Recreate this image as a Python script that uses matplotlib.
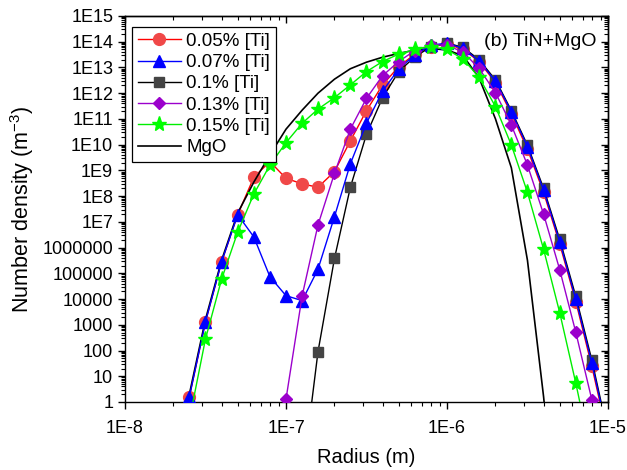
import numpy as np
import matplotlib
matplotlib.use("Agg")
import matplotlib.pyplot as plt
from matplotlib.ticker import LogLocator, FuncFormatter, NullFormatter

plt.rcParams['font.family'] = ['Liberation Sans', 'DejaVu Sans']
plt.rcParams['mathtext.fontset'] = 'custom'
plt.rcParams['mathtext.rm'] = 'Liberation Sans'

# radius grid of the precipitate size classes (m)
radius = [2.51e-8, 3.16e-8, 3.98e-8, 5.01e-8, 6.31e-8, 7.94e-8, 1.0e-7, 1.26e-7, 1.58e-7,
          2.0e-7, 2.51e-7, 3.16e-7, 3.98e-7, 5.01e-7, 6.31e-7, 7.94e-7, 1.0e-6, 1.26e-6,
          1.58e-6, 2.0e-6, 2.51e-6, 3.16e-6, 3.98e-6, 5.01e-6, 6.31e-6, 7.94e-6, 1.0e-5]

n = np.nan
ti_005 = [1.6, 1.3e3, 2.8e5, 1.9e7, 5.4e8, 2.2e9, 4.9e8, 3.0e8, 2.2e8,
          9.0e8, 1.4e10, 2.1e11, 2.1e12, 1.07e13, 3.3e13, 6.4e13, 8.0e13, 5.1e13,
          1.7e13, 2.6e12, 1.6e11, 6.6e9, 1.4e8, 1.4e6, 8.0e3, 24, 0.04]
ti_007 = [1.6, 1.3e3, 2.8e5, 1.9e7, 2.6e6, 7.4e4, 1.35e4, 8.7e3, 1.45e5,
          1.6e7, 1.8e9, 6.8e10, 1.2e12, 8.7e12, 3.1e13, 7.4e13, 8.7e13, 5.5e13,
          1.8e13, 2.95e12, 1.9e11, 8.3e9, 1.7e8, 1.7e6, 9.8e3, 32, 0.05]
ti_010 = [n, n, n, n, n, n, n, 1e-3, 90,
          3.8e5, 2.2e8, 2.5e10, 6.7e11, 6.9e12, 2.6e13, 6.3e13, 8.9e13, 6.0e13,
          2.0e13, 3.3e12, 2.1e11, 9.5e9, 2.0e8, 2.1e6, 1.26e4, 42, 0.06]
ti_013 = [n, n, n, n, n, n, 1.3, 1.35e4, 7.6e6,
          7.7e8, 4.0e10, 6.3e11, 4.8e12, 1.7e13, 4.5e13, 7.5e13, 7.4e13, 3.9e13,
          9.3e12, 1.05e12, 5.8e10, 1.6e9, 2.0e7, 1.4e5, 510, 1.2, n]
ti_015 = [0.2, 280, 5.9e4, 4.0e6, 1.2e8, 1.6e9, 1.2e10, 6.8e10, 2.4e11,
          6.7e11, 2.1e12, 6.9e12, 1.7e13, 3.3e13, 5.0e13, 6.4e13, 5.0e13, 2.1e13,
          4.2e12, 3.0e11, 9.7e9, 1.4e8, 8.6e5, 3.0e3, 5.4, 6e-3, n]

mgo_radius = [2.0e-8, 2.51e-8, 3.16e-8, 3.98e-8, 5.01e-8, 6.31e-8, 7.94e-8, 1.0e-7, 1.26e-7,
              1.58e-7, 2.0e-7, 2.51e-7, 3.16e-7, 3.98e-7, 5.01e-7, 6.31e-7, 7.94e-7, 1.0e-6,
              1.26e-6, 1.58e-6, 2.0e-6, 2.51e-6, 3.16e-6, 3.98e-6, 5.01e-6]
mgo = [1e-3, 2.0, 1.6e3, 3.2e5, 2.2e7, 3.5e8, 4.0e9, 4.0e10, 2.2e11,
       1.0e12, 3.5e12, 8.9e12, 1.6e13, 2.5e13, 3.5e13, 4.7e13, 5.4e13, 4.8e13,
       2.8e13, 4.0e12, 1.0e11, 1.26e9, 3.2e5, 1.6, 1e-6]

fig = plt.figure(figsize=(6.27, 4.70), dpi=100)
ax = fig.add_axes([0.1994, 0.1447, 0.7703, 0.8213])

ax.plot(radius, ti_005, '-o', color='#ff0000', mfc='#f04848', mec='#f04848', ms=8.5, lw=1.0,
        label='0.05% [Ti]', zorder=3)
ax.plot(radius, ti_007, '-^', color='#0000ff', mfc='#0000ff', mec='#0000ff', ms=9, lw=1.0,
        label='0.07% [Ti]', zorder=5)
ax.plot(radius, ti_010, '-s', color='black', mfc='#444444', mec='#444444', ms=6.5, lw=1.0,
        label='0.1% [Ti]', zorder=4)
ax.plot(radius, ti_013, '-D', color='#9b00cc', mfc='#9b00cc', mec='#9b00cc', ms=6.5, lw=1.0,
        label='0.13% [Ti]', zorder=6)
ax.plot(radius, ti_015, '-*', color='#00ee00', mfc='#00ff00', mec='#00ff00', ms=11, lw=1.0,
        label='0.15% [Ti]', zorder=7)
ax.plot(mgo_radius, mgo, '-', color='black', lw=1.2, label='MgO', zorder=3.5)

ax.set_xscale('log')
ax.set_yscale('log')
ax.set_xlim(1e-8, 1e-5)
ax.set_ylim(1, 1e15)

def ylab(v, pos):
    e = int(round(np.log10(v)))
    return '1E%d' % e if e >= 7 else str(10 ** e)

def xlab(v, pos):
    return '1E%d' % int(round(np.log10(v)))

for axis in (ax.xaxis, ax.yaxis):
    axis.set_major_locator(LogLocator(base=10, numticks=30))
    axis.set_minor_locator(LogLocator(base=10, subs=np.arange(2, 10), numticks=100))
    axis.set_minor_formatter(NullFormatter())
ax.yaxis.set_major_formatter(FuncFormatter(ylab))
ax.xaxis.set_major_formatter(FuncFormatter(xlab))
ax.tick_params(which='major', direction='out', length=5, width=1.0, labelsize=13)
ax.tick_params(which='minor', direction='out', length=3, width=0.8)
ax.tick_params(axis='x', which='major', pad=8)
for s in ax.spines.values():
    s.set_linewidth(1.0)

# mirrored ticks pointing inwards on top and right
top = ax.secondary_xaxis('top')
right = ax.secondary_yaxis('right')
for sec, axis in ((top, top.xaxis), (right, right.yaxis)):
    axis.set_major_locator(LogLocator(base=10, numticks=30))
    axis.set_minor_locator(LogLocator(base=10, subs=np.arange(2, 10), numticks=100))
    axis.set_major_formatter(NullFormatter())
    axis.set_minor_formatter(NullFormatter())
    sec.tick_params(which='major', direction='in', length=5, width=1.0)
    sec.tick_params(which='minor', direction='in', length=3, width=0.8)
    for s in sec.spines.values():
        s.set_linewidth(1.0)

ax.set_xlabel('Radius (m)', fontsize=14.5, labelpad=8)
ax.set_ylabel(r'Number density (m$^{\mathregular{-3}}$)', fontsize=15.5, labelpad=5)

ax.text(0.977, 0.933, '(b) TiN+MgO', transform=ax.transAxes, ha='right', va='center', fontsize=14)

leg = ax.legend(loc='upper left', bbox_to_anchor=(0.0145, 0.971), borderaxespad=0, fontsize=13.5,
                fancybox=False, edgecolor='black', framealpha=1, handlelength=2.3,
                handletextpad=0.3, borderpad=0.3, labelspacing=0.22)
leg.get_frame().set_linewidth(0.9)
leg.set_zorder(10)

fig.savefig('out.png', dpi=100)
